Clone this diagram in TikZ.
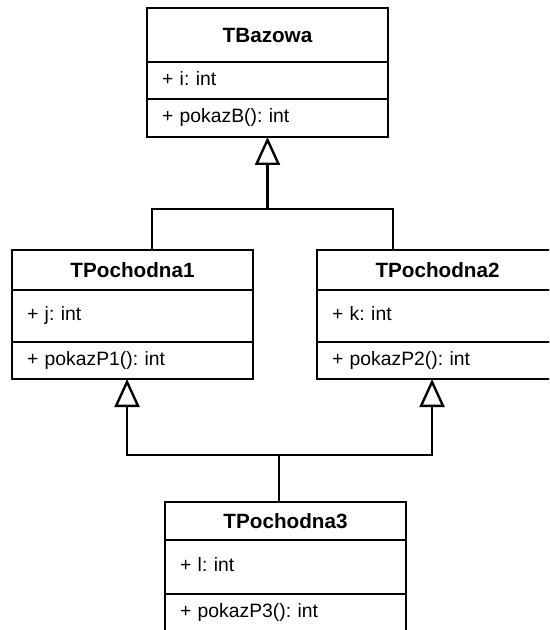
\documentclass[tikz,border=0pt]{standalone}
\usepackage{fontspec}
\setmainfont{Liberation Sans}
\usetikzlibrary{positioning,arrows.meta}
\frenchspacing

\begin{document}
\begin{tikzpicture}[x=0.75pt,y=-0.75pt]
  \tikzset{classname/.style = {draw, line width=1.8pt, outer sep=0pt, minimum width=180.75pt, minimum height=30pt, inner ysep=0pt, font=\bfseries\fontsize{15.5pt}{18pt}\selectfont},
           member/.style = {draw, line width=1.8pt, outer sep=0pt, text width=158.25pt, inner xsep=11.25pt, inner ysep=0pt, align=left, minimum height=27.75pt, execute at begin node=\strut, font=\fontsize{14.5pt}{17pt}\selectfont},
           gen/.style = {line width=1.8pt, -{Triangle[open, width=18.75pt, length=21pt]}}} % 스타일 설정

  \clip (0,0) rectangle (549,630);
  \fill[white] (0,0) rectangle (549,630);

  % 클래스들
  \node[classname, minimum height=40.5pt] (B) at (267.5,35) {TBazowa};
  \node[member, below=0pt of B] (B-atr) {+ i: int};
  \node[member, minimum height=28.5pt, below=0pt of B-atr] (B-met) {+ pokazB(): int};

  \node[classname] (P1) at (132.5,270) {TPochodna1};
  \node[member, minimum height=39pt, below=0pt of P1] (P1-atr) {+ j: int};
  \node[member, below=0pt of P1-atr] (P1-met) {+ pokazP1(): int};

  \node[classname] (P2) at (437.5,270) {TPochodna2};
  \node[member, minimum height=39pt, below=0pt of P2] (P2-atr) {+ k: int};
  \node[member, below=0pt of P2-atr] (P2-met) {+ pokazP2(): int};

  \node[classname, minimum height=28.5pt] (P3) at (285.5,521) {TPochodna3};
  \node[member, minimum height=40.5pt, below=0pt of P3] (P3-atr) {+ l: int};
  \node[member, below=0pt of P3-atr] (P3-met) {+ pokazP3(): int};

  % 상속
  \coordinate (j1) at (267.5,209);
  \coordinate (j2) at (279,455);
  \draw[gen] (j1) -- (B-met.south);
  \draw[line width=1.8pt] ([xshift=14.6pt]P1.north) |- (j1);
  \draw[line width=1.8pt] ([xshift=-33.4pt]P2.north) |- (j1);
  \draw[gen] (j2) -| ([xshift=-4.1pt]P1-met.south);
  \draw[gen] (j2) -| ([xshift=-4.1pt]P2-met.south);
  \draw[line width=1.8pt] (P3.north -| j2) -- (j2);

\end{tikzpicture}
\end{document}
